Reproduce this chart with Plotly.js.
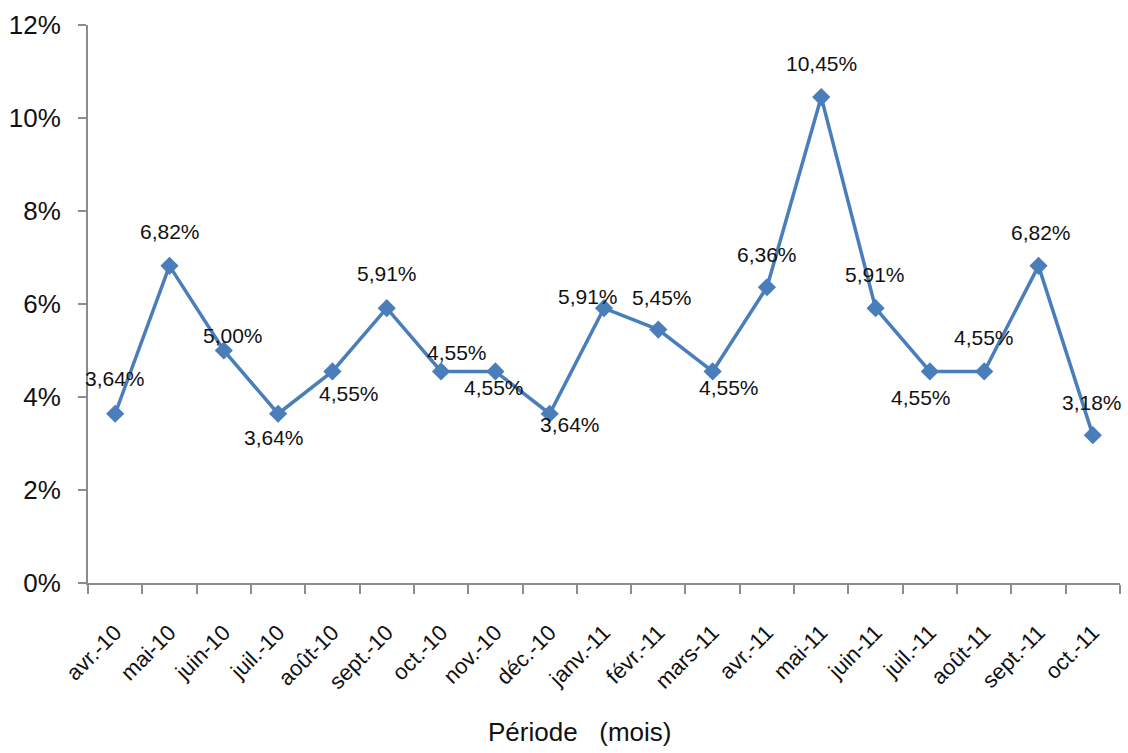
<!DOCTYPE html>
<html>
<head>
<meta charset="utf-8">
<script src="https://cdn.plot.ly/plotly-3.0.1.min.js"></script>
<style>html,body{margin:0;padding:0;background:#fff;}#chart{width:1128px;height:753px;}</style>
</head>
<body>
<div id="chart"></div>
<script>
// Categories (months)
const months = ["avr.-10","mai-10","juin-10","juil.-10","août-10","sept.-10","oct.-10","nov.-10","déc.-10",
  "janv.-11","févr.-11","mars-11","avr.-11","mai-11","juin-11","juil.-11","août-11","sept.-11","oct.-11"];
// Values in percent
const values = [3.64,6.82,5.00,3.64,4.55,5.91,4.55,4.55,3.64,5.91,5.45,4.55,6.36,10.45,5.91,4.55,4.55,6.82,3.18];
// Y tick values
const yTicks = [0,2,4,6,8,10,12];
const xTitle = 'Période\u00A0\u00A0\u00A0(mois)';

// label offsets (pixels) relative to each point, as Excel placed them
const labelDx = [0,1,9,-4,17,0,16,-1,20,-16,4,16,0,0,-1,-9,0,2,-1];
const labelDy = [-35,-34,-15,24,22,-35,-19,16,11,-12,-32,16,-33,-34,-34,26,-34,-33,-33];

const FONT = '"Liberation Sans Narrow","Arial Narrow","Liberation Sans",Arial,sans-serif';
const BLUE = '#4a7ebb';

const fmt = v => v.toFixed(2).replace('.', ',') + '%';

const trace = {
  type: 'scatter',
  mode: 'lines+markers',
  x: months,
  y: values,
  line: {color: BLUE, width: 3.5},
  marker: {symbol: 'diamond', size: 14, color: BLUE},
  hoverinfo: 'x+y'
};

const annotations = values.map((v, i) => ({
  x: months[i], y: v, xref: 'x', yref: 'y',
  text: fmt(v), showarrow: false,
  xanchor: 'center', yanchor: 'middle',
  xshift: labelDx[i], yshift: -labelDy[i],
  font: {family: FONT, size: 21, color: '#111'}
}));

annotations.push({
  xref: 'paper', yref: 'paper', x: 0.4767, y: -0.267,
  xanchor: 'center', yanchor: 'middle', showarrow: false,
  text: xTitle,
  font: {family: FONT, size: 26, color: '#111'}
});

const layout = {
  width: 1128, height: 753,
  margin: {l: 88, r: 8, t: 25, b: 170},
  paper_bgcolor: '#fff', plot_bgcolor: '#fff',
  showlegend: false,
  xaxis: {
    type: 'category',
    range: [-0.5, months.length - 0.5],
    autorange: false,
    showgrid: false, zeroline: false,
    showline: true, linecolor: '#8c8c8c', linewidth: 2,
    ticks: 'outside', tickson: 'boundaries', ticklen: 9, tickcolor: '#8c8c8c', tickwidth: 2,
    tickangle: -45,
    ticklabelstandoff: 26,
    tickfont: {family: FONT, size: 22, color: '#111'},
    automargin: false
  },
  yaxis: {
    range: [0, 12],
    autorange: false,
    tickvals: yTicks,
    ticktext: yTicks.map(t => t + '%'),
    showgrid: false, zeroline: false,
    showline: true, linecolor: '#8c8c8c', linewidth: 2,
    ticks: 'outside', ticklen: 8, tickcolor: '#8c8c8c', tickwidth: 2,
    ticklabelstandoff: 12,
    tickfont: {family: FONT, size: 26, color: '#111'},
    automargin: false
  },
  annotations: annotations
};

Plotly.newPlot('chart', [trace], layout, {displayModeBar: false, staticPlot: true});
</script>
</body>
</html>
